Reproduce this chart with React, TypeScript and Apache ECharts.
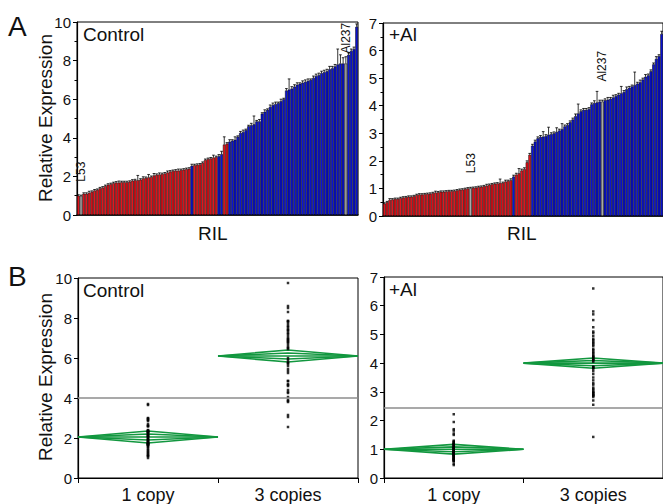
import React, { useEffect, useRef } from 'react';
import * as echarts from 'echarts';

// ---------- Panel A data (sorted RIL expression) ----------
const ctrlValues = [
  1.0, 1.0, 1.1, 1.1, 1.15, 1.2, 1.27, 1.3, 1.38, 1.42,
  1.5, 1.57, 1.6, 1.65, 1.68, 1.68, 1.7, 1.7, 1.7, 1.72,
  1.78, 1.8, 1.8, 1.83, 1.9, 1.92, 1.95, 1.97, 2.05, 2.08,
  2.1, 2.12, 2.15, 2.2, 2.25, 2.28, 2.3, 2.3, 2.33, 2.35,
  2.38, 2.4, 2.55, 2.58, 2.6, 2.62, 2.7, 2.85, 2.9, 2.93,
  2.98, 3.0, 3.05, 3.15, 3.65, 3.7, 3.8, 3.85, 3.9, 4.05,
  4.25, 4.3, 4.4, 4.6, 4.65, 4.7, 4.85, 4.85, 5.25, 5.35,
  5.45, 5.6, 5.7, 5.75, 5.8, 5.9, 6.0, 6.45, 6.5, 6.55,
  6.65, 6.75, 6.8, 6.85, 6.9, 6.95, 7.0, 7.1, 7.2, 7.25,
  7.35, 7.4, 7.45, 7.55, 7.6, 7.7, 7.8, 7.85, 7.85, 7.85,
  8.3, 8.5, 8.6, 9.75,
];
const ctrlErr = [
  0.05, 0.03, 0.05, 0.05, 0.08, 0.05, 0.05, 0.05, 0.05, 0.05,
  0.05, 0.05, 0.05, 0.05, 0.05, 0.08, 0.05, 0.05, 0.05, 0.05,
  0.05, 0.05, 0.25, 0.05, 0.08, 0.05, 0.15, 0.05, 0.1, 0.05,
  0.08, 0.05, 0.05, 0.08, 0.05, 0.05, 0.05, 0.08, 0.05, 0.05,
  0.05, 0.05, 0.08, 0.05, 0.05, 0.05, 0.05, 0.05, 0.05, 0.05,
  0.12, 0.05, 0.08, 0.15, 0.4, 0.05, 0.1, 0.05, 0.15, 0.05,
  0.08, 0.1, 0.05, 0.05, 0.1, 0.43, 0.05, 0.1, 0.05, 0.1,
  0.05, 0.1, 0.1, 0.1, 0.05, 0.1, 0.05, 0.1, 0.55, 0.1,
  0.1, 0.1, 0.05, 0.1, 0.1, 0.1, 0.05, 0.1, 0.1, 0.1,
  0.1, 0.1, 0.1, 0.15, 0.1, 0.1, 0.8, 0.45, 0.3, 0.35,
  0.1, 0.1, 0.1, 0.15,
];
// R = 1 copy (red), B = 3 copies (blue), G = parent line (gray)
const ctrlGeno = (
  'RGRRRRRRRR' + 'RRRRRRRRRR' + 'RRRRRRRRRR' + 'RRRRRRRRRR' + 'RRBRRRRRRR' +
  'RRBBRRBBBB' + 'BBBBBBBBBB' + 'BBBBBBBBBB' + 'BBBBBBBBBB' + 'BBBBBBBBBG' + 'BBBB'
).split('');

const alValues = [
  0.45, 0.5, 0.58, 0.6, 0.62, 0.62, 0.65, 0.67, 0.68, 0.7,
  0.7, 0.72, 0.76, 0.78, 0.78, 0.79, 0.8, 0.81, 0.83, 0.85,
  0.86, 0.88, 0.88, 0.89, 0.9, 0.9, 0.91, 0.93, 0.95, 0.96,
  0.98, 1.0, 1.01, 1.02, 1.03, 1.05, 1.06, 1.08, 1.1, 1.13,
  1.15, 1.17, 1.18, 1.2, 1.2, 1.25, 1.27, 1.3, 1.43, 1.5,
  1.55, 1.65, 1.7, 1.95, 2.22, 2.55, 2.7, 2.82, 2.87, 2.88,
  2.9, 2.95, 2.97, 3.0, 3.05, 3.1, 3.15, 3.25, 3.3, 3.4,
  3.5, 3.62, 3.72, 3.8, 3.85, 3.85, 3.88, 4.05, 4.1, 4.12,
  4.15, 4.15, 4.2, 4.22, 4.25, 4.3, 4.35, 4.4, 4.45, 4.5,
  4.6, 4.65, 4.7, 4.75, 4.8, 4.85, 4.95, 5.05, 5.1, 5.25,
  5.5, 5.7, 5.8, 6.6,
];
const alErr = [
  0.03, 0.03, 0.05, 0.03, 0.03, 0.03, 0.03, 0.03, 0.03, 0.03,
  0.03, 0.03, 0.03, 0.03, 0.03, 0.03, 0.03, 0.03, 0.03, 0.05,
  0.03, 0.03, 0.03, 0.03, 0.03, 0.03, 0.03, 0.03, 0.03, 0.03,
  0.03, 0.03, 0.03, 0.03, 0.03, 0.03, 0.03, 0.03, 0.05, 0.03,
  0.03, 0.03, 0.03, 0.14, 0.03, 0.05, 0.03, 0.05, 0.05, 0.05,
  0.17, 0.05, 0.05, 0.05, 0.05, 0.05, 0.05, 0.05, 0.05, 0.18,
  0.05, 0.27, 0.05, 0.05, 0.15, 0.05, 0.2, 0.05, 0.05, 0.05,
  0.05, 0.08, 0.34, 0.05, 0.05, 0.05, 0.05, 0.05, 0.08, 0.4,
  0.05, 0.05, 0.05, 0.08, 0.05, 0.08, 0.05, 0.05, 0.25, 0.05,
  0.08, 0.05, 0.05, 0.47, 0.05, 0.08, 0.05, 0.08, 0.05, 0.05,
  0.05, 0.08, 0.05, 0.1,
];
const alGeno = (
  'RRRRRRRRRR' + 'RRRRRRRRRR' + 'RRRRRRRRRR' + 'RRGRRRRRRR' + 'RRRRRRRRBR' +
  'RRRRRBBBBB' + 'BBBBBBBBBB' + 'BBBBBBBBBB' + 'BGBBBBBBBB' + 'BBBBBBBBBB' + 'BBBB'
).split('');

const parentNames = ['L53', 'Al237'];
const ctrlLabelGap = [14, 10];
const alLabelGap = [15, 20];

// ---------- Panel B data ----------
const copyCategories = ['1 copy', '3 copies'];
const ctrlDiamondMean = [2.05, 6.1];
const ctrlDiamondHalf = [0.3, 0.3];
const alDiamondMean = [1.0, 4.0];
const alDiamondHalf = [0.17, 0.18];
const ctrlGrandMean = 4.0;
const alGrandMean = 2.43;

const RED = '#e8141c';
const BLUE = '#0a12d6';
const GRAY = '#a9a9a9';
const GREEN = '#12973f';
const FONT = 'Liberation Sans, Arial, Helvetica, sans-serif';

function barData(values: number[], geno: string[], gaps: number[]) {
  let p = 0;
  return values.map((v, i) => {
    const g = geno[i];
    const color = g === 'R' ? RED : g === 'B' ? BLUE : GRAY;
    const item: any = { value: v, itemStyle: { color } };
    if (g === 'G') {
      const name = parentNames[p];
      const gap = gaps[p];
      p++;
      item.label = {
        show: true,
        position: 'top',
        rotate: 90,
        align: 'left',
        verticalAlign: 'middle',
        distance: gap,
        formatter: name,
        fontSize: 12,
        fontFamily: FONT,
        color: '#111',
      };
    }
    return item;
  });
}

function errData(values: number[], errs: number[]) {
  return values.map((v, i) => [i, v, errs[i]]);
}

function dotData(values: number[], geno: string[]) {
  const out: number[][] = [];
  values.forEach((v, i) => {
    if (geno[i] === 'R') out.push([0, v]);
    else if (geno[i] === 'B') out.push([1, v]);
  });
  return out;
}

const errRender = (params: any, api: any) => {
  const i = api.value(0);
  const v = api.value(1);
  const e = api.value(2);
  const p0 = api.coord([i, v]);
  const p1 = api.coord([i, v + e]);
  const w = api.size([1, 0])[0];
  const st = { stroke: '#000', lineWidth: 0.8 };
  return {
    type: 'group',
    children: [
      { type: 'line', shape: { x1: p0[0], y1: p0[1], x2: p1[0], y2: p1[1] }, style: st },
      { type: 'line', shape: { x1: p1[0] - w * 0.5, y1: p1[1], x2: p1[0] + w * 0.5, y2: p1[1] }, style: st },
    ],
  };
};

const diamondRender = (params: any, api: any) => {
  const i = api.value(0);
  const m = api.value(1);
  const h = api.value(2);
  const c = api.coord([i, m]);
  const top = api.coord([i, m + h]);
  const bot = api.coord([i, m - h]);
  const w = api.size([1, 0])[0];
  const l = c[0] - w / 2;
  const r = c[0] + w / 2;
  const ih = (c[1] - top[1]) * 0.5;
  const st = { stroke: GREEN, fill: 'none', lineWidth: 1.6 };
  return {
    type: 'group',
    children: [
      { type: 'polygon', shape: { points: [[l, c[1]], [c[0], top[1]], [r, c[1]], [c[0], bot[1]]] }, style: st },
      { type: 'polygon', shape: { points: [[l, c[1]], [c[0], c[1] - ih], [r, c[1]], [c[0], c[1] + ih]] }, style: st },
      { type: 'line', shape: { x1: l, y1: c[1], x2: r, y2: c[1] }, style: st },
    ],
  };
};

export default function App() {
  const ref = useRef<HTMLDivElement>(null);

  useEffect(() => {
    if (!ref.current) return;
    const chart = echarts.init(ref.current, null, { renderer: 'svg' });
    const idx = ctrlValues.map((_, i) => String(i + 1));
    const idxAl = alValues.map((_, i) => String(i + 1));

    const yBase = (gridIndex: number, max: number, interval: number, minor: boolean) => ({
      type: 'value',
      gridIndex,
      min: 0,
      max,
      interval,
      axisLine: { show: true, lineStyle: { color: '#000', width: 1.2 } },
      axisTick: { show: true, length: 4, lineStyle: { color: '#000' } },
      minorTick: { show: minor, splitNumber: 2, length: 2.5, lineStyle: { color: '#000' } },
      splitLine: { show: false },
      axisLabel: { fontSize: 15, color: '#111', margin: 6, fontFamily: FONT },
    });

    const xBar = (gridIndex: number, data: string[]) => ({
      type: 'category',
      gridIndex,
      data,
      axisLine: { show: true, lineStyle: { color: '#000', width: 1.5 } },
      axisTick: { show: false },
      axisLabel: { show: false },
    });

    const xCopy = (gridIndex: number) => ({
      type: 'category',
      gridIndex,
      data: copyCategories,
      boundaryGap: true,
      axisLine: { show: true, lineStyle: { color: '#000', width: 1.2 } },
      axisTick: { show: true, interval: 0, length: 5, alignWithLabel: false, lineStyle: { color: '#000' } },
      axisLabel: { fontSize: 18, color: '#111', margin: 8, fontFamily: FONT },
    });

    const gridBox = { show: true, borderColor: '#000', borderWidth: 1, backgroundColor: 'transparent' };

    const txt = (x: number, y: number, text: string, size: number, extra: any = {}) => ({
      type: 'text',
      x,
      y,
      style: { text, fontSize: size, fontFamily: FONT, fill: '#111', ...extra },
    });

    const option: any = {
      animation: false,
      backgroundColor: '#fff',
      grid: [
        { left: 77, top: 22, width: 281, height: 193, ...gridBox },
        { left: 383, top: 23, width: 280, height: 193, ...gridBox },
        { left: 78, top: 278, width: 280, height: 201, ...gridBox },
        { left: 384, top: 277, width: 279, height: 201, ...gridBox },
      ],
      xAxis: [xBar(0, idx), xBar(1, idxAl), xCopy(2), xCopy(3)],
      yAxis: [yBase(0, 10, 2, true), yBase(1, 7, 1, true), yBase(2, 10, 2, false), yBase(3, 7, 1, false)],
      series: [
        {
          type: 'bar',
          xAxisIndex: 0,
          yAxisIndex: 0,
          barCategoryGap: '0%',
          data: barData(ctrlValues, ctrlGeno, ctrlLabelGap),
          itemStyle: { borderColor: '#000', borderWidth: 0.5 },
        },
        {
          type: 'custom',
          xAxisIndex: 0,
          yAxisIndex: 0,
          renderItem: errRender,
          encode: { x: 0, y: 1 },
          data: errData(ctrlValues, ctrlErr),
          z: 5,
        },
        {
          type: 'bar',
          xAxisIndex: 1,
          yAxisIndex: 1,
          barCategoryGap: '0%',
          data: barData(alValues, alGeno, alLabelGap),
          itemStyle: { borderColor: '#000', borderWidth: 0.5 },
        },
        {
          type: 'custom',
          xAxisIndex: 1,
          yAxisIndex: 1,
          renderItem: errRender,
          encode: { x: 0, y: 1 },
          data: errData(alValues, alErr),
          z: 5,
        },
        {
          type: 'scatter',
          xAxisIndex: 2,
          yAxisIndex: 2,
          symbol: 'rect',
          symbolSize: 2.5,
          itemStyle: { color: '#000' },
          data: dotData(ctrlValues, ctrlGeno),
          z: 4,
          markLine: {
            silent: true,
            symbol: 'none',
            label: { show: false },
            lineStyle: { color: '#8c8c8c', width: 1.5, type: 'solid' },
            data: [{ yAxis: ctrlGrandMean }],
          },
        },
        {
          type: 'custom',
          xAxisIndex: 2,
          yAxisIndex: 2,
          renderItem: diamondRender,
          encode: { x: 0, y: 1 },
          data: ctrlDiamondMean.map((m, i) => [i, m, ctrlDiamondHalf[i]]),
          z: 3,
        },
        {
          type: 'scatter',
          xAxisIndex: 3,
          yAxisIndex: 3,
          symbol: 'rect',
          symbolSize: 2.5,
          itemStyle: { color: '#000' },
          data: dotData(alValues, alGeno),
          z: 4,
          markLine: {
            silent: true,
            symbol: 'none',
            label: { show: false },
            lineStyle: { color: '#8c8c8c', width: 1.5, type: 'solid' },
            data: [{ yAxis: alGrandMean }],
          },
        },
        {
          type: 'custom',
          xAxisIndex: 3,
          yAxisIndex: 3,
          renderItem: diamondRender,
          encode: { x: 0, y: 1 },
          data: alDiamondMean.map((m, i) => [i, m, alDiamondHalf[i]]),
          z: 3,
        },
      ],
      graphic: [
        txt(8, 12, 'A', 28),
        txt(8, 262, 'B', 28),
        txt(83, 25, 'Control', 19),
        txt(389, 25, '+Al', 19),
        txt(83, 281, 'Control', 19),
        txt(389, 280, '+Al', 19),
        txt(198, 224, 'RIL', 19),
        txt(507, 224, 'RIL', 19),
        {
          type: 'text',
          x: 45,
          y: 118,
          rotation: Math.PI / 2,
          style: { text: 'Relative Expression', fontSize: 19, fontFamily: FONT, fill: '#111', align: 'center', verticalAlign: 'middle' },
        },
        {
          type: 'text',
          x: 45,
          y: 377,
          rotation: Math.PI / 2,
          style: { text: 'Relative Expression', fontSize: 19, fontFamily: FONT, fill: '#111', align: 'center', verticalAlign: 'middle' },
        },
      ],
    };

    chart.setOption(option);
    return () => chart.dispose();
  }, []);

  return <div ref={ref} style={{ position: 'fixed', left: 0, top: 0, width: 663, height: 504 }} />;
}
